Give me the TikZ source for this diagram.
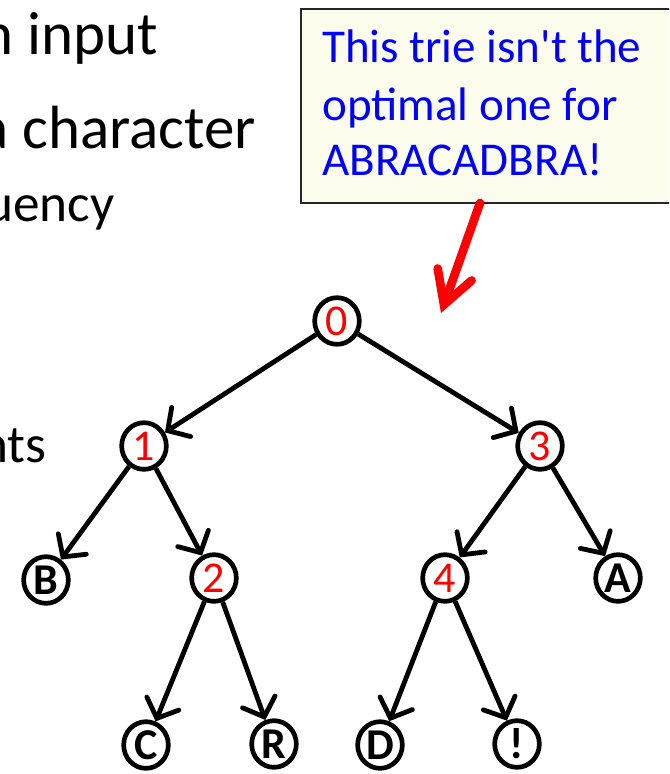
\documentclass[tikz,border=0pt]{standalone}
\usepackage{fontspec}
\setmainfont{Carlito}
\newfontfamily\notefont{Carlito}[Ligatures=TeXOff]
\usetikzlibrary{shapes.geometric,arrows.meta}
\definecolor{notefill}{RGB}{252,252,236}
\definecolor{noteblue}{RGB}{0,0,255}
\definecolor{notered}{RGB}{255,0,0}
\tikzset{
  trienode/.style={ellipse, draw=black, line width=3.5pt, minimum width=33.5pt, minimum height=35pt,
    inner sep=0pt, text=notered, font=\fontsize{33}{33}\selectfont},
  leafnode/.style={trienode, text=black, font=\bfseries\fontsize{33}{33}\selectfont},
  trieedge/.style={line width=3.6pt, black, -{Straight Barb[length=12pt,width=26pt,line cap=round]}},
  slidebig/.style={anchor=base west, inner sep=0pt, font=\fontsize{45.75}{50}\selectfont},
  slidemid/.style={anchor=base west, inner sep=0pt, font=\fontsize{40}{44}\selectfont},
  notetext/.style={anchor=base west, inner sep=0pt, text=noteblue, font=\notefont\fontsize{35.3}{40}\selectfont},
}
\begin{document}
\begin{tikzpicture}[x=0.75pt, y=-0.75pt]
\useasboundingbox (0,0) rectangle (669,774);
\clip (0,0) rectangle (669,774);
\fill[white] (0,0) rectangle (669,774);

% slide text, cut at the left edge
\node[slidebig] (s1) at (-19,55) {n input};
\node[slidebig] (s2) at (-21,148) {a character};
\node[slidemid] (s3) at (-15,221) {uency};
\node[slidemid] (s4) at (-20,462) {nts};

% callout
\node[draw=black!85, line width=1.5pt, fill=notefill, anchor=north west, inner sep=0pt,
  minimum width=290pt, minimum height=145.5pt] (note) at (300,8) {};
\node[notetext] (c1) at (322,63) {This trie isn't the};
\node[notetext] (c2) at (322,120) {optimal one for};
\node[notetext] (c3) at (322,175) {ABRACADBRA!};
\coordinate (redstart) at (480,203);
\coordinate (redend) at (441,313);
\draw[notered, line width=6.5pt, line cap=round,
  -{Straight Barb[length=24pt,width=27pt,line cap=round]}] (redstart) -- (redend);

% trie nodes
\node[trienode] (n0) at (337,321) {0};
\node[trienode] (n1) at (144,446) {1};
\node[trienode] (n3) at (540,446) {3};
\node[leafnode] (nB) at (46,580) {B};
\node[trienode] (n2) at (214,578) {2};
\node[trienode] (n4) at (445,578) {4};
\node[leafnode] (nA) at (618,578) {A};
\node[leafnode] (nC) at (146,745) {C};
\node[leafnode] (nR) at (274,744) {R};
\node[leafnode] (nD) at (380,745) {D};
\node[leafnode] (nX) at (517,744) {!};

% edges
\draw[trieedge] (n0) -- (n1);
\draw[trieedge] (n0) -- (n3);
\draw[trieedge] (n1) -- (nB);
\draw[trieedge] (n1) -- (n2);
\draw[trieedge] (n3) -- (n4);
\draw[trieedge] (n3) -- (nA);
\draw[trieedge] (n2) -- (nC);
\draw[trieedge] (n2) -- (nR);
\draw[trieedge] (n4) -- (nD);
\draw[trieedge] (n4) -- (nX);
\end{tikzpicture}
\end{document}
